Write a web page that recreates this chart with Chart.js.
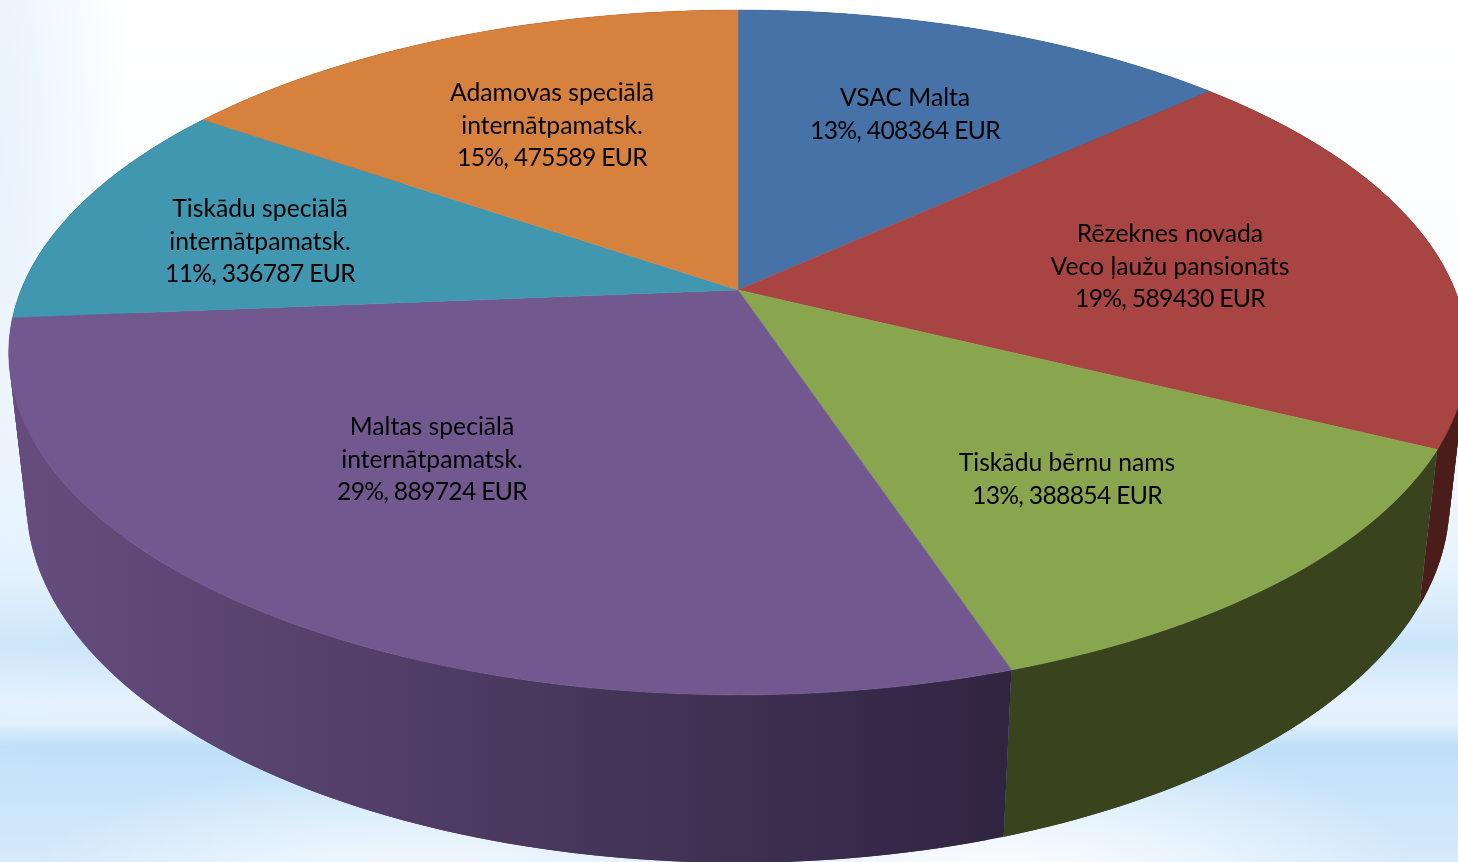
<!DOCTYPE html>
<html lang="lv">
<head>
<meta charset="utf-8">
<title>Pie</title>
<script src="https://cdn.jsdelivr.net/npm/chart.js@4"></script>
<style>
  html, body { margin: 0; padding: 0; }
  body {
    width: 1458px;
    height: 862px;
    overflow: hidden;
    background:
      radial-gradient(ellipse 420px 150px at 1000px 880px, rgba(255,255,255,.95), rgba(255,255,255,0)),
      radial-gradient(ellipse 400px 130px at 420px 890px, rgba(255,255,255,.8), rgba(255,255,255,0)),
      radial-gradient(ellipse 130px 650px at 0 150px, rgba(222,238,252,.7), rgba(222,238,252,0)),
      linear-gradient(to bottom, #ffffff 0, #fafcff 360px, #f0f7fe 480px, #e6f3fd 570px, #cbe5f9 645px, #d4e9fa 665px, #e5f2fd 700px, #e2f0fc 722px, #c0e0f8 746px, #c8e4f9 790px, #d6eafb 862px);
  }
  canvas { display: block; }
</style>
</head>
<body>
<canvas id="chart" width="1458" height="862"></canvas>
<script>
const categories = [
  ["VSAC Malta"],
  ["Rēzeknes novada", "Veco ļaužu pansionāts"],
  ["Tiskādu bērnu nams"],
  ["Maltas speciālā", "internātpamatsk."],
  ["Tiskādu speciālā", "internātpamatsk."],
  ["Adamovas speciālā", "internātpamatsk."]
];
const amounts = [408364, 589430, 388854, 889724, 336787, 475589];
const percents = [13, 19, 13, 29, 11, 15];
const topColors = ["#4672a8", "#a84442", "#89a54e", "#71588f", "#4097af", "#d6813e"];
const wallColors = [
  ["#2a4465", "#2a4465"],
  ["#4a1c1a", "#4a1c1a"],
  ["#39431e", "#39431e"],
  ["#302541", "#654c7d"],
  ["#274f5c", "#274f5c"],
  ["#73441f", "#73441f"]
];
// centre of the first text line of each label
const labelCentres = [[905, 98], [1170, 234], [1067, 463], [432, 427], [260, 209], [552, 93]];
const LINE_HEIGHT = 32.7;

// perspective of the disc, fitted on the slice corners of the picture
const APEX_X = 738, APEX_Y = 290;
const SCALE_X = 717, SCALE_Y = 331, PERSP = -0.1825;
const DEPTH_Y = 151, DEPTH_W = 0.024;

function project(angle, depth) {
  const X = Math.cos(angle), Y = Math.sin(angle);
  const w = 1 + PERSP * Y + DEPTH_W * depth;
  return [APEX_X + SCALE_X * X / w, APEX_Y + (SCALE_Y * Y + DEPTH_Y * depth) / w];
}

function rimPath(ctx, from, to, depth) {
  const steps = Math.max(2, Math.ceil(Math.abs(to - from) / 0.01));
  for (let i = 0; i <= steps; i++) {
    const p = project(from + (to - from) * i / steps, depth);
    ctx.lineTo(p[0], p[1]);
  }
}

const pie3d = {
  id: "pie3d",
  beforeDatasetDraw(chart, args) {
    const ctx = chart.ctx;
    const arcs = args.meta.data;

    // walls first, the ones towards the viewer last
    [5, 4, 0, 1, 2, 3].forEach(i => {
      const arc = arcs[i];
      const grad = ctx.createLinearGradient(1004, 0, 30, 0);
      grad.addColorStop(0, wallColors[i][0]);
      grad.addColorStop(1, wallColors[i][1]);
      ctx.fillStyle = grad;
      // small overlapping quads, a single outline would lose the side silhouette
      const steps = Math.ceil((arc.endAngle - arc.startAngle) / 0.02);
      for (let s = 0; s < steps; s++) {
        const a = arc.startAngle + (arc.endAngle - arc.startAngle) * s / steps;
        const b = arc.startAngle + (arc.endAngle - arc.startAngle) * Math.min(s + 2, steps) / steps;
        const p = [project(a, 0), project(b, 0), project(b, 1), project(a, 1)];
        ctx.beginPath();
        p.forEach(q => ctx.lineTo(q[0], q[1]));
        ctx.closePath();
        ctx.fill();
      }
    });

    // top face
    arcs.forEach((arc, i) => {
      ctx.beginPath();
      ctx.moveTo(APEX_X, APEX_Y);
      rimPath(ctx, arc.startAngle, arc.endAngle, 0);
      ctx.closePath();
      ctx.fillStyle = topColors[i];
      ctx.strokeStyle = topColors[i];
      ctx.lineWidth = 0.5;
      ctx.fill();
      ctx.stroke();
    });
    return false;
  },
  afterDatasetsDraw(chart) {
    const ctx = chart.ctx;
    ctx.save();
    ctx.font = '24.7px Lato';
    ctx.fillStyle = "#000000";
    ctx.textAlign = "center";
    ctx.textBaseline = "middle";
    categories.forEach((name, i) => {
      const lines = name.concat(percents[i] + "%, " + amounts[i] + " EUR");
      lines.forEach((line, n) => {
        // the value line runs narrower, its digits are tighter in the original face
        ctx.letterSpacing = n === lines.length - 1 ? "-0.7px" : "0px";
        ctx.fillText(line, labelCentres[i][0], labelCentres[i][1] + n * LINE_HEIGHT);
      });
    });
    ctx.restore();
  }
};

new Chart(document.getElementById("chart").getContext("2d"), {
  type: "pie",
  data: {
    labels: categories.map(c => c.join(" ")),
    datasets: [{ data: amounts, backgroundColor: topColors, borderWidth: 0 }]
  },
  options: {
    responsive: false,
    animation: false,
    plugins: { legend: { display: false }, tooltip: { enabled: false } }
  },
  plugins: [pie3d]
});
</script>
</body>
</html>
